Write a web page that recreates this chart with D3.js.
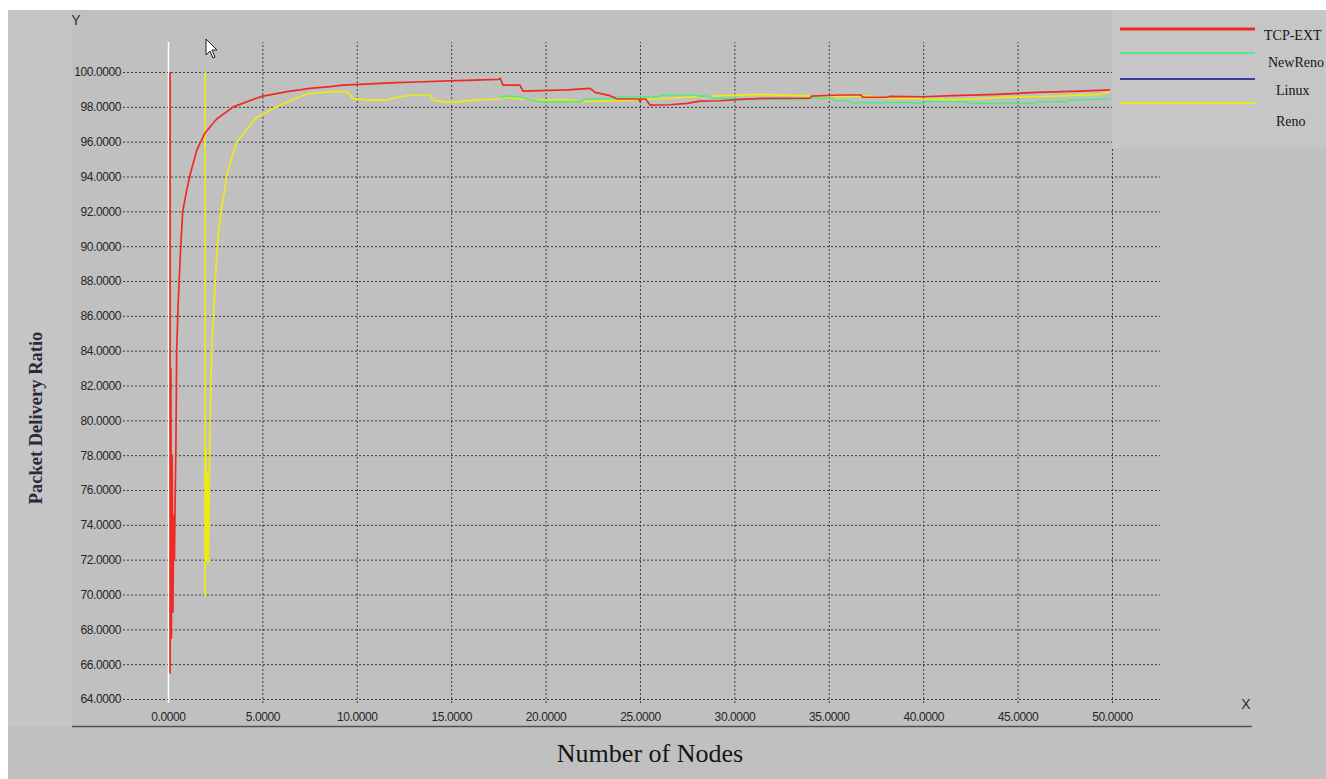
<!DOCTYPE html>
<html>
<head>
<meta charset="utf-8">
<script src="https://cdn.jsdelivr.net/npm/d3@7"></script>
<style>
  html, body { margin: 0; padding: 0; background: #ffffff; }
  svg { display: block; }
</style>
</head>
<body>
<svg id="chart" width="1326" height="779"></svg>
<script>
// Packet delivery ratio against number of nodes for four TCP variants.
const xTicks = [0, 5, 10, 15, 20, 25, 30, 35, 40, 45, 50];
const yTicks = [64, 66, 68, 70, 72, 74, 76, 78, 80, 82, 84, 86, 88, 90, 92, 94, 96, 98, 100];
const seriesNames = ["TCP-EXT", "NewReno", "Linux", "Reno"];
const seriesColors = ["#f02a22", "#52e88a", "#3a3aa8", "#ecec10"];

// TCP-EXT: [nodes, ratio]
const tcpExt = [
  [0.11, 100], [0.11, 65.5], [0.15, 83], [0.18, 67.5], [0.22, 78], [0.26, 69],
  [0.30, 74.5], [0.34, 72], [0.37, 74.8], [0.42, 78.6], [0.46, 84], [0.53, 86.5],
  [0.60, 88.2], [0.67, 89.9], [0.78, 92], [0.99, 93.2], [1.17, 94.1], [1.52, 95.5],
  [1.96, 96.5], [2.58, 97.3], [3.46, 98.0], [4.96, 98.6], [6.46, 98.9], [6.99, 98.97],
  [7.52, 99.06], [8.58, 99.16], [9.27, 99.25], [12.13, 99.39], [13.51, 99.44],
  [15.31, 99.5], [17.5, 99.58], [17.6, 99.64], [17.74, 99.25], [18.64, 99.25],
  [18.8, 98.9], [21.13, 98.97], [22.35, 99.06], [22.62, 98.83], [23.41, 98.64],
  [23.78, 98.45], [24.95, 98.45], [25.0, 98.3], [25.1, 98.45], [25.3, 98.45],
  [25.53, 98.1], [26.59, 98.12], [27.49, 98.2], [28.18, 98.33], [29.24, 98.35],
  [30.3, 98.43], [31.51, 98.49], [34.0, 98.5], [34.1, 98.62], [35.59, 98.68],
  [36.7, 98.68], [36.81, 98.55], [38.1, 98.55], [38.24, 98.6], [39.99, 98.58],
  [41.58, 98.64], [43.91, 98.72], [46.03, 98.83], [48.31, 98.9], [49.9, 98.97]
];

// NewReno
const newReno = [
  [17.6, 98.5], [17.74, 98.62], [18.64, 98.58], [19.0, 98.45], [19.7, 98.3],
  [21.93, 98.3], [22.0, 98.45], [23.4, 98.45], [23.5, 98.58], [26.0, 98.58],
  [26.1, 98.68], [27.8, 98.68], [28.18, 98.62], [28.7, 98.62], [28.8, 98.49],
  [30.3, 98.49], [30.4, 98.43], [33.9, 98.43], [34.0, 98.49], [35.2, 98.49],
  [35.3, 98.35], [36.1, 98.35], [36.2, 98.24], [39.3, 98.24], [40.0, 98.2],
  [40.1, 98.3], [42.3, 98.3], [42.4, 98.2], [45.9, 98.2], [46.0, 98.3],
  [47.6, 98.3], [47.7, 98.39], [49.9, 98.45]
];

// Linux (hidden beneath the other curves)
const linux = [];

// Reno
const reno = [
  [1.96, 100], [1.96, 69.9], [2.0, 78.4], [2.04, 72], [2.08, 77], [2.12, 71.8],
  [2.14, 71.9], [2.22, 79.5], [2.31, 83.8], [2.40, 85.9], [2.54, 88.7], [2.67, 90.8],
  [2.84, 92.2], [3.14, 94.2], [3.64, 96.0], [4.70, 97.4], [5.93, 98.1], [6.99, 98.58],
  [7.36, 98.74], [8.05, 98.81], [8.58, 98.87], [9.48, 98.87], [9.8, 98.49],
  [10.54, 98.39], [11.6, 98.39], [11.9, 98.49], [12.29, 98.58], [12.98, 98.68],
  [13.88, 98.68], [14.04, 98.39], [14.78, 98.26], [15.47, 98.3], [16.15, 98.39],
  [17.58, 98.45], [17.74, 98.55], [18.27, 98.5], [19.7, 98.39], [21.29, 98.39],
  [21.93, 98.3], [22.88, 98.33], [24.31, 98.39], [25.69, 98.45], [28.18, 98.58],
  [29.93, 98.68], [31.36, 98.7], [32.8, 98.68], [34.0, 98.62], [35.22, 98.6],
  [37.02, 98.62], [38.24, 98.49], [39.3, 98.5], [39.99, 98.45], [41.42, 98.4],
  [42.64, 98.45], [43.91, 98.53], [46.03, 98.58], [47.62, 98.64], [49.36, 98.72],
  [49.89, 98.87]
];

const seriesData = [tcpExt, newReno, linux, reno];

const svg = d3.select("#chart");

// Window background panels
svg.append("rect").attr("x", 8).attr("y", 10).attr("width", 1318).attr("height", 769).attr("fill", "#c0c0c0");
svg.append("rect").attr("x", 8).attr("y", 10).attr("width", 64).attr("height", 716).attr("fill", "#c5c5c5");

const x = d3.scaleLinear().domain([0, 50]).range([168, 1112]);
const y = d3.scaleLinear().domain([64, 100]).range([699, 72]);

const fmt = d3.format(".4f");
const gridColor = "#3c3c3c";

// Horizontal grid lines with y tick labels
const yAxis = d3.axisLeft(y)
  .tickValues(yTicks)
  .tickFormat(fmt)
  .tickSize(-(1160 - 123))
  .tickPadding(2);
const gy = svg.append("g").attr("transform", "translate(123,0)").call(yAxis);
gy.select(".domain").remove();
gy.selectAll(".tick line")
  .attr("stroke", gridColor).attr("stroke-width", 1).attr("stroke-dasharray", "2,2");
gy.selectAll(".tick text")
  .attr("fill", "#262626")
  .style("font-family", "'Liberation Sans', Arial, sans-serif")
  .style("font-size", "12px")
  .attr("letter-spacing", "-0.4");

// Vertical grid lines with x tick labels
const xAxis = d3.axisBottom(x)
  .tickValues(xTicks)
  .tickFormat(fmt)
  .tickSize(-(703 - 42))
  .tickPadding(9);
const gx = svg.append("g").attr("transform", "translate(0,703)").call(xAxis);
gx.select(".domain").remove();
gx.selectAll(".tick line")
  .attr("stroke", d => d === 0 ? "#ffffff" : gridColor)
  .attr("stroke-width", d => d === 0 ? 1.5 : 1)
  .attr("stroke-dasharray", d => d === 0 ? null : "2,2");
gx.selectAll(".tick text")
  .attr("fill", "#262626")
  .style("font-family", "'Liberation Sans', Arial, sans-serif")
  .style("font-size", "12px")
  .attr("letter-spacing", "-0.4");

// Frame line under the plot
svg.append("line")
  .attr("x1", 72).attr("x2", 1252).attr("y1", 726.5).attr("y2", 726.5)
  .attr("stroke", "#505050").attr("stroke-width", 1.5);

// Axis letters
svg.append("text").attr("x", 76).attr("y", 25).attr("text-anchor", "middle")
  .style("font-family", "'Liberation Sans', Arial, sans-serif").style("font-size", "14px")
  .attr("fill", "#303030").text("Y");
svg.append("text").attr("x", 1246).attr("y", 709).attr("text-anchor", "middle")
  .style("font-family", "'Liberation Sans', Arial, sans-serif").style("font-size", "14px")
  .attr("fill", "#303030").text("X");

// Series lines
const line = d3.line().x(d => x(d[0])).y(d => y(d[1]));
const drawOrder = [3, 1, 0];
drawOrder.forEach(i => {
  if (!seriesData[i].length) return;
  svg.append("path")
    .datum(seriesData[i])
    .attr("fill", "none")
    .attr("stroke", seriesColors[i])
    .attr("stroke-width", 1.7)
    .attr("stroke-linejoin", "round")
    .attr("d", line);
});

// Legend
const legend = svg.append("g");
legend.append("rect").attr("x", 1112).attr("y", 10).attr("width", 214).attr("height", 138).attr("fill", "#c6c6c6");
const legendY = [29, 53, 79, 103];
const legendTextPos = [[1264, 40], [1268, 67], [1276, 95], [1276, 126]];
seriesNames.forEach((name, i) => {
  legend.append("line")
    .attr("x1", 1120).attr("x2", 1255)
    .attr("y1", legendY[i]).attr("y2", legendY[i])
    .attr("stroke", seriesColors[i])
    .attr("stroke-width", i === 0 ? 3 : 2);
  legend.append("text")
    .attr("x", legendTextPos[i][0]).attr("y", legendTextPos[i][1])
    .style("font-family", "'Liberation Serif', 'Times New Roman', serif")
    .style("font-size", "14px")
    .attr("fill", "#151515")
    .text(name);
});

// Axis titles
svg.append("text")
  .attr("transform", "translate(42,418) rotate(-90)")
  .attr("text-anchor", "middle")
  .style("font-family", "'Liberation Serif', 'Times New Roman', serif")
  .style("font-size", "18.5px")
  .style("font-weight", "bold")
  .attr("fill", "#2a2a3a")
  .text("Packet Delivery Ratio");
svg.append("text")
  .attr("x", 650).attr("y", 762)
  .attr("text-anchor", "middle")
  .style("font-family", "'Liberation Serif', 'Times New Roman', serif")
  .style("font-size", "26px")
  .attr("fill", "#151515")
  .text("Number of Nodes");

// Mouse pointer left on the screen
svg.append("path")
  .attr("d", "M206,39 L206,55 L210,51 L213,58 L215,57 L212,50 L217,50 Z")
  .attr("fill", "#ffffff").attr("stroke", "#202020").attr("stroke-width", 1);
</script>
</body>
</html>
